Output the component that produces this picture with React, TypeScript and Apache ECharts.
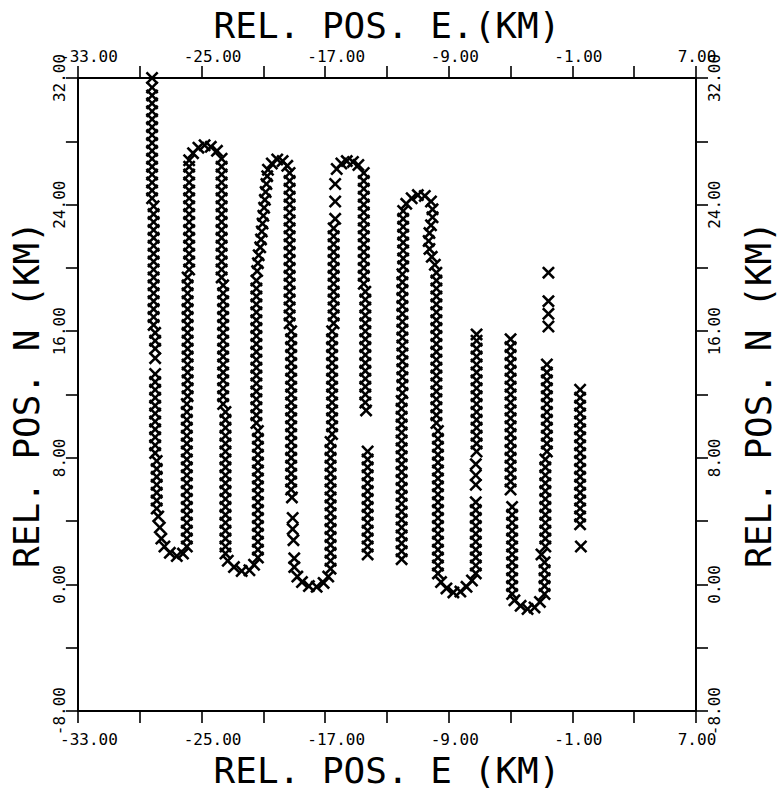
import { useEffect, useRef } from 'react';
import * as echarts from 'echarts';

// Each run is [easting (km), list of northings (km)] of plotted fixes, in flight order.
type Run = [number, number[]];

const xTickLabels = ['-33.00', '-25.00', '-17.00', '-9.00', '-1.00', '7.00'];
const yTickLabels = ['-8.00', '0.00', '8.00', '16.00', '24.00', '32.00'];

const legA: Run[] = [
  [-28.2, [32, 31.4, 30.9, 30.4, 29.9, 29.4, 28.9, 28.4, 27.9, 27.4, 26.9, 26.4, 25.9, 25.4, 24.9, 24.4]],
  [-28.1, [23.9, 23.4, 22.9, 22.4, 21.9, 21.4, 20.9, 20.4, 19.9, 19.4, 18.9, 18.4, 17.9, 17.4, 16.9, 16.4]],
  [-28.0, [15.9, 15.4, 14.9, 14.3, 13.3, 12.8, 12.3, 11.8, 11.3, 10.8, 10.3, 9.8, 9.3, 8.8, 8.3]],
  [-27.9, [7.8, 7.3, 6.8, 6.3, 5.8, 5.3, 4.8]],
  [-27.8, [4.3]], [-27.7, [3.6]], [-27.6, [2.9]],
];
const turnAB: Run[] = [[-27.4, [2.4]], [-27.05, [2.0]], [-26.6, [1.8]], [-26.2, [1.95]], [-25.95, [2.4]]];
const legB: Run[] = [
  [-25.95, [2.9, 3.4, 3.9, 4.4, 4.9, 5.4, 5.9, 6.4, 6.9, 7.4, 7.9, 8.4, 8.9, 9.4, 9.9, 10.4, 10.9, 11.4]],
  [-25.9, [11.9, 12.4, 12.9, 13.4, 13.9, 14.4, 14.9, 15.4, 15.9, 16.4, 16.9, 17.4, 17.9, 18.4, 18.9, 19.4]],
  [-25.8, [19.9, 20.4, 20.9, 21.4, 21.9, 22.4, 22.9, 23.4, 23.9, 24.4, 24.9, 25.4, 25.9, 26.4, 26.8]],
];
const turnBC: Run[] = [[-25.55, [27.25]], [-25.2, [27.6]], [-24.8, [27.75]], [-24.4, [27.65]], [-24.0, [27.4]]];
const legC: Run[] = [
  [-23.7, [26.9, 26.4, 25.9, 25.4, 24.9, 24.4, 23.9, 23.4, 22.9, 22.4, 21.9, 21.4, 20.9, 20.4, 19.9, 19.4]],
  [-23.6, [18.9, 18.4, 17.9, 17.4, 16.9, 16.4, 15.9, 15.4, 14.9, 14.4, 13.9, 13.4, 12.9, 12.4, 11.9, 11.4]],
  [-23.45, [10.9, 10.4, 9.9, 9.4, 8.9, 8.4, 7.9, 7.4, 6.9, 6.4, 5.9, 5.4, 4.9, 4.4, 3.9, 3.4, 2.9, 2.4, 1.95]],
];
const turnCD: Run[] = [[-23.3, [1.5]], [-22.9, [1.1]], [-22.4, [0.85]], [-21.9, [0.9]], [-21.6, [1.25]]];
const legD: Run[] = [
  [-21.35, [1.7, 2.2, 2.7, 3.2, 3.7, 4.2, 4.7, 5.2, 5.7, 6.2, 6.7, 7.2, 7.7, 8.2, 8.7, 9.2, 9.7]],
  [-21.45, [10.2, 10.7, 11.2, 11.7, 12.2, 12.7, 13.2, 13.7, 14.2, 14.7, 15.2, 15.7, 16.2, 16.7, 17.2, 17.7, 18.2, 18.7, 19.2]],
  [-21.4, [19.8]], [-21.35, [20.3]], [-21.3, [20.8]], [-21.2, [21.3]], [-21.15, [21.8]], [-21.1, [22.3]],
  [-21.05, [22.8]], [-21.0, [23.3]], [-20.95, [23.8]], [-20.9, [24.3]], [-20.85, [24.8]], [-20.8, [25.3]],
  [-20.75, [25.8]], [-20.7, [26.2]],
];
const turnDE: Run[] = [[-20.45, [26.6]], [-20.1, [26.85]], [-19.75, [26.75]], [-19.45, [26.45]]];
const legE: Run[] = [
  [-19.3, [26.0, 25.5, 25.0, 24.5, 24.0, 23.5, 23.0, 22.5, 22.0, 21.5, 21.0, 20.5, 20.0, 19.5, 19.0, 18.5, 18.0, 17.5, 17.0, 16.5]],
  [-19.2, [16.0, 15.5, 15.0, 14.5, 14.0, 13.5, 13.0, 12.5, 12.0, 11.5, 11.0, 10.5, 10.0, 9.5, 9.0, 8.5, 8.0, 7.5, 7.0, 6.5, 6.0]],
  [-19.15, [5.5]], [-19.1, [4.2, 3.5]], [-19.05, [2.8]], [-19.0, [1.65, 1.1]],
];
const turnEF: Run[] = [[-18.8, [0.5]], [-18.5, [0.15]], [-18.05, [-0.1]], [-17.55, [-0.15]], [-17.1, [0.1]], [-16.8, [0.5]]];
const legF: Run[] = [
  [-16.65, [1.0, 1.5, 2.0, 2.5, 3.0, 3.5, 4.0, 4.5, 5.0, 5.5, 6.0, 6.5, 7.0, 7.5, 8.0, 8.5, 9.0]],
  [-16.55, [9.5, 10.0, 10.5, 11.0, 11.5, 12.0, 12.5, 13.0, 13.5, 14.0, 14.5, 15.0, 15.5, 16.0]],
  [-16.45, [16.5, 17.0, 17.5, 18.0, 18.5, 19.0, 19.5, 20.0, 20.5, 21.0, 21.5, 22.0, 22.5]],
  [-16.35, [23.1, 24.2, 25.3]],
];
const turnFG: Run[] = [[-16.25, [26.25]], [-15.95, [26.6]], [-15.6, [26.75]], [-15.2, [26.7]], [-14.85, [26.5]]];
const legG: Run[] = [
  [-14.5, [26.0, 25.5, 25.0, 24.5, 24.0, 23.5, 23.0, 22.5, 22.0, 21.5, 21.0, 20.5, 20.0, 19.5, 19.0]],
  [-14.4, [18.5, 18.0, 17.5, 17.0, 16.5, 16.0, 15.5, 15.0, 14.5, 14.0, 13.5, 13.0, 12.5, 12.0, 11.5]],
  [-14.35, [11.0]],
  [-14.25, [8.4, 7.9, 7.4, 6.9, 6.4, 5.9, 5.4, 4.9, 4.4, 3.9, 3.4, 2.9, 2.4, 1.9]],
];
const legH: Run[] = [
  [-12.05, [1.6, 2.1, 2.6, 3.1, 3.6, 4.1, 4.6, 5.1, 5.6, 6.1, 6.6, 7.1, 7.6, 8.1, 8.6, 9.1, 9.6, 10.1, 10.6, 11.1, 11.6]],
  [-12.0, [12.1, 12.6, 13.1, 13.6, 14.1, 14.6, 15.1, 15.6, 16.1, 16.6, 17.1, 17.6, 18.1, 18.6, 19.1, 19.6]],
  [-11.95, [20.1, 20.6, 21.1, 21.6, 22.1, 22.6, 23.1, 23.6]],
];
const turnHI: Run[] = [[-11.75, [24.05]], [-11.4, [24.4]], [-11.0, [24.6]], [-10.55, [24.55]], [-10.15, [24.2]]];
const legI: Run[] = [
  [-10.05, [23.7, 23.2]], [-10.15, [22.7]], [-10.25, [22.2]], [-10.3, [21.7]], [-10.25, [21.2]],
  [-10.1, [20.7]], [-9.9, [20.2]],
  [-9.8, [19.7, 19.2, 18.7, 18.2, 17.7, 17.2, 16.7, 16.2, 15.7, 15.2, 14.7, 14.2, 13.7, 13.2, 12.7, 12.2, 11.7, 11.2, 10.7, 10.2]],
  [-9.7, [9.7, 9.2, 8.7, 8.2, 7.7, 7.2, 6.7, 6.2, 5.7, 5.2, 4.7, 4.2, 3.7, 3.2, 2.7, 2.2, 1.7, 1.2, 0.7]],
];
const turnIJ: Run[] = [[-9.5, [0.15]], [-9.15, [-0.25]], [-8.7, [-0.5]], [-8.25, [-0.45]], [-7.85, [-0.15]], [-7.5, [0.25]]];
const legJ: Run[] = [
  [-7.25, [0.7, 1.2, 1.7, 2.2, 2.7, 3.2, 3.7, 4.2, 4.7, 5.2, 6.3, 6.9, 7.6]],
  [-7.2, [8.4, 8.9, 9.4, 9.9, 10.4, 10.9, 11.4, 11.9, 12.4, 12.9, 13.4, 13.9, 14.4, 14.9, 15.4, 15.8]],
];
const legK: Run[] = [
  [-5.0, [15.5, 15.0, 14.5, 14.0, 13.5, 13.0, 12.5, 12.0, 11.5, 11.0, 10.5, 10.0, 9.5, 9.0, 8.5, 8.0, 7.5, 7.0, 6.5, 6.0]],
  [-4.9, [4.9, 4.4, 3.9, 3.4, 2.9, 2.4, 1.9, 1.4, 0.9, 0.4, -0.1, -0.6]],
];
const turnKL: Run[] = [[-4.75, [-1.0]], [-4.35, [-1.35]], [-3.9, [-1.55]], [-3.45, [-1.45]], [-3.1, [-1.1]]];
const legL: Run[] = [
  [-2.8, [-0.6, -0.1, 0.4, 0.9, 1.4]],
  [-3.0, [1.9]],
  [-2.75, [2.4, 2.9, 3.4, 3.9, 4.4, 4.9, 5.4, 5.9, 6.4, 6.9, 7.4, 7.9]],
  [-2.65, [8.4, 8.9, 9.4, 9.9, 10.4, 10.9, 11.4, 11.9, 12.4, 12.9, 13.4, 13.9]],
  [-2.55, [16.3, 17.1, 17.9, 19.7]],
];
const legM: Run[] = [
  [-0.5, [12.3, 11.8, 11.3, 10.8, 10.3, 9.8, 9.3, 8.8, 8.3, 7.8, 7.3, 6.8, 6.3, 5.8, 5.3, 4.8, 4.3, 3.8]],
  [-0.45, [2.4]],
];

const track: Run[][] = [
  legA, turnAB, legB, turnBC, legC, turnCD, legD, turnDE, legE, turnEF, legF, turnFG, legG,
  legH, turnHI, legI, turnIJ, legJ, legK, turnKL, legL, legM,
];

const X_MIN = -33;
const X_MAX = 7;
const Y_MIN = -8;
const Y_MAX = 32;
const TICK_STEP = 4;
const LABEL_STEP = 8;

const fixes = track.flat().flatMap(([e, ns]) => ns.map((n) => [e, n]));

const labelAt = (labels: string[], min: number, v: number) => {
  const k = (v - min) / LABEL_STEP;
  const i = Math.round(k);
  return Math.abs(k - i) < 1e-6 ? labels[i] ?? '' : '';
};

const FONT = "'DejaVu Sans Mono', monospace";
const CROSS = 'path://M0,14L14,0L50,36L86,0L100,14L64,50L100,86L86,100L50,64L14,100L0,86L36,50Z';

const LABEL_FONT = { fontFamily: FONT, fontSize: 16, color: '#000' };
// Plotter-style numbers start a little before their tick: pad the left of each
// label by an amount that depends on its length.
const xRich = {
  n4: { ...LABEL_FONT, padding: [0, 0, 0, 2] },
  n5: { ...LABEL_FONT, padding: [0, 0, 0, 12] },
  n6: { ...LABEL_FONT, padding: [0, 0, 0, 22] },
};
const xFormatter = (v: number) => {
  const s = labelAt(xTickLabels, X_MIN, v);
  return s ? `{n${s.length}|${s}}` : '';
};

const axisCommon = {
  type: 'value' as const,
  interval: TICK_STEP,
  nameLocation: 'middle' as const,
  nameTextStyle: { fontFamily: FONT, fontSize: 36, color: '#000' },
  axisLine: { show: true, onZero: false, lineStyle: { color: '#000', width: 2 } },
  axisTick: { show: true, inside: false, length: 12, lineStyle: { color: '#000', width: 1.6 } },
  splitLine: { show: false },
};

export default function App() {
  const ref = useRef<HTMLDivElement>(null);

  useEffect(() => {
    if (!ref.current) return;
    const chart = echarts.init(ref.current, null, { renderer: 'svg' });
    const xLabelTop = { ...LABEL_FONT, margin: 14, formatter: xFormatter, rich: xRich };
    const xLabelBottom = { ...xLabelTop, margin: 20 };
    const yLabel = { ...LABEL_FONT, margin: 10, rotate: 90, formatter: (v: number) => labelAt(yTickLabels, Y_MIN, v) };
    chart.setOption({
      animation: false,
      backgroundColor: '#fff',
      grid: { left: 76, right: 69, top: 78, bottom: 72, containLabel: false },
      xAxis: [
        { ...axisCommon, position: 'bottom', min: X_MIN, max: X_MAX, name: 'REL. POS. E (KM)', nameGap: 38, axisLabel: xLabelBottom },
        { ...axisCommon, position: 'top', min: X_MIN, max: X_MAX, name: 'REL. POS. E.(KM)', nameGap: 34, axisLabel: xLabelTop },
      ],
      yAxis: [
        { ...axisCommon, position: 'left', min: Y_MIN, max: Y_MAX, name: 'REL. POS. N (KM)', nameRotate: 90, nameGap: 28, axisLabel: yLabel },
        { ...axisCommon, position: 'right', min: Y_MIN, max: Y_MAX, name: 'REL. POS. N (KM)', nameRotate: 90, nameGap: 44, axisLabel: yLabel },
      ],
      series: [
        {
          type: 'scatter',
          xAxisIndex: 0,
          yAxisIndex: 0,
          data: fixes,
          symbol: CROSS,
          symbolSize: 13,
          clip: false,
          itemStyle: { color: '#000', opacity: 1 },
        },
      ],
    });
    return () => chart.dispose();
  }, []);

  return <div ref={ref} style={{ position: 'absolute', left: 0, top: 0, width: 784, height: 793 }} />;
}
